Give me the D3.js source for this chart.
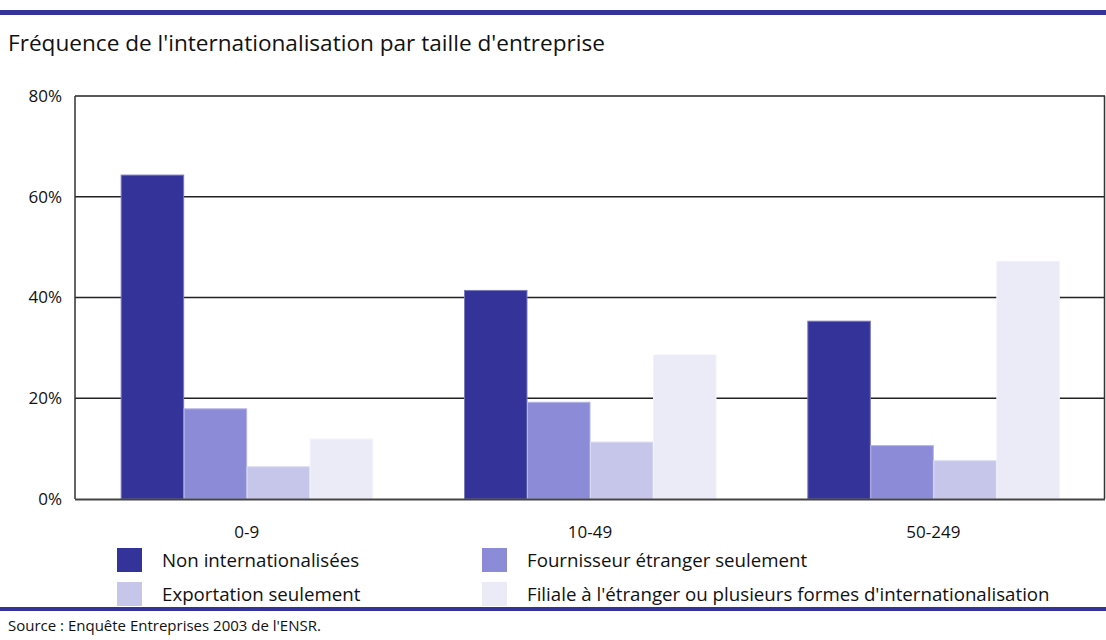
<!DOCTYPE html>
<html>
<head>
<meta charset="utf-8">
<script src="https://cdn.jsdelivr.net/npm/d3@7"></script>
<style>
  body { margin: 0; background: #fff; }
  text { font-family: "Open Sans", "Noto Sans", sans-serif; fill: #111; }
</style>
</head>
<body>
<div class="chart"></div>
<script>
// --- DATA --- //
const categories = ["0-9", "10-49", "50-249"];
const seriesNames = [
    "Non internationalisées",
    "Fournisseur étranger seulement",
    "Exportation seulement",
    "Filiale à l'étranger ou plusieurs formes d'internationalisation"
];
const nonInternationalisees = [64.3, 41.4, 35.3];
const fournisseurSeulement = [17.9, 19.2, 10.6];
const exportationSeulement = [6.4, 11.3, 7.6];
const filialeOuPlusieurs = [11.9, 28.6, 47.2];
const yTicks = [0, 20, 40, 60, 80];
const colors = ["#333399", "#8b8bd8", "#c6c6eb", "#ebebf8"];

const seriesValues = [nonInternationalisees, fournisseurSeulement, exportationSeulement, filialeOuPlusieurs];

// set up SVG
const width = 1106;
const height = 640;
const margin = {top: 96, right: 1, bottom: 137, left: 75};

const svg = d3.select('.chart').append('svg')
    .attr('width', width)
    .attr('height', height)
    .attr('viewBox', [0, 0, width, height]);

// top and bottom rule
svg.append('rect').attr('x', 0).attr('y', 10).attr('width', width).attr('height', 5).attr('fill', '#333399');
svg.append('rect').attr('x', 0).attr('y', 607).attr('width', width).attr('height', 4).attr('fill', '#333399');

// title
svg.append('text')
    .attr('x', 8).attr('y', 51)
    .style('font-size', '22.6px')
    .text("Fréquence de l'internationalisation par taille d'entreprise");

// --- SCALES --- //
const x0 = d3.scaleBand()
    .domain(categories)
    .range([margin.left, width - margin.right])
    .paddingInner(0.266)
    .paddingOuter(0.133);

const x1 = d3.scaleBand()
    .domain(seriesNames)
    .range([0, x0.bandwidth()]);

const y = d3.scaleLinear()
    .domain([0, 80])
    .range([height - margin.bottom - 4, margin.top]);

// gridlines
svg.append('g')
    .selectAll('line')
    .data(yTicks.filter(d => d > 0))
    .join('line')
    .attr('x1', margin.left).attr('x2', width - margin.right)
    .attr('y1', d => y(d)).attr('y2', d => y(d))
    .attr('stroke', '#222')
    .attr('stroke-width', 1.5);

// left and right frame
svg.append('line')
    .attr('x1', margin.left).attr('x2', margin.left)
    .attr('y1', y(80)).attr('y2', y(0))
    .attr('stroke', '#333').attr('stroke-width', 1.5);
svg.append('line')
    .attr('x1', width - margin.right - 0.5).attr('x2', width - margin.right - 0.5)
    .attr('y1', y(80)).attr('y2', y(0))
    .attr('stroke', '#333').attr('stroke-width', 1.5);

// y tick labels
svg.append('g')
    .selectAll('text')
    .data(yTicks)
    .join('text')
    .attr('x', 62)
    .attr('y', d => y(d))
    .attr('dy', '0.35em')
    .attr('text-anchor', 'end')
    .style('font-size', '17px')
    .text(d => d + '%');

// --- BARS --- //
const groups = svg.append('g')
    .selectAll('g')
    .data(categories)
    .join('g')
    .attr('transform', d => `translate(${x0(d)},0)`);

groups.selectAll('rect')
    .data((c, i) => seriesNames.map((s, j) => ({series: s, idx: j, value: seriesValues[j][i]})))
    .join('rect')
    .attr('x', d => x1(d.series) + 0.5)
    .attr('y', d => y(d.value))
    .attr('width', x1.bandwidth() - 0.5)
    .attr('height', d => y(0) - y(d.value))
    .attr('fill', d => colors[d.idx])
    .attr('stroke', d => d3.interpolateRgb(colors[d.idx], '#ffffff')(0.35))
    .attr('stroke-width', 1);

// bottom axis line
svg.append('line')
    .attr('x1', margin.left).attr('x2', width - margin.right)
    .attr('y1', y(0) + 0.5).attr('y2', y(0) + 0.5)
    .attr('stroke', '#444').attr('stroke-width', 2);

// category labels
svg.append('g')
    .selectAll('text')
    .data(categories)
    .join('text')
    .attr('x', d => x0(d) + x0.bandwidth() / 2)
    .attr('y', 532)
    .attr('dy', '0.35em')
    .attr('text-anchor', 'middle')
    .style('font-size', '17px')
    .text(d => d);

// --- LEGEND --- //
const legendPos = [[117, 548], [482, 548], [117, 582], [482, 582]];
const legend = svg.append('g')
    .selectAll('g')
    .data(seriesNames)
    .join('g')
    .attr('transform', (d, i) => `translate(${legendPos[i][0]},${legendPos[i][1]})`);

legend.append('rect')
    .attr('width', 25).attr('height', 24)
    .attr('fill', (d, i) => colors[i]);

legend.append('text')
    .attr('x', 45).attr('y', 12)
    .attr('dy', '0.35em')
    .style('font-size', '18.7px')
    .text(d => d);

// source
svg.append('text')
    .attr('x', 8).attr('y', 631)
    .style('font-size', '15px')
    .text("Source : Enquête Entreprises 2003 de l'ENSR.");
</script>
</body>
</html>
